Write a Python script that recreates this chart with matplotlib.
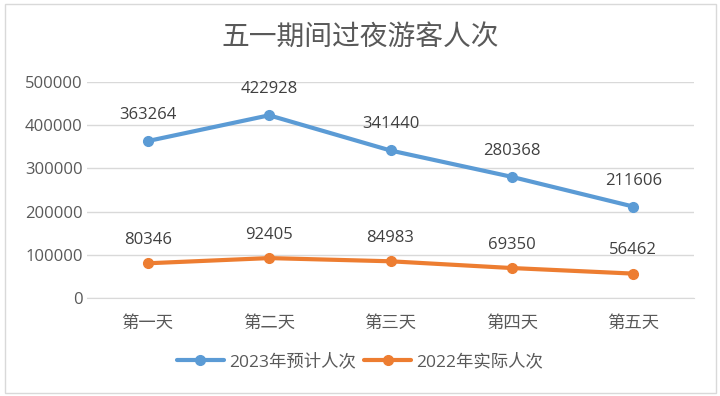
import matplotlib
matplotlib.use("Agg")
import matplotlib.pyplot as plt
from matplotlib.patches import Rectangle

plt.rcParams['font.family'] = ['Open Sans', 'Noto Sans CJK SC', 'DejaVu Sans']

categories = ["第一天", "第二天", "第三天", "第四天", "第五天"]
series_2023 = [363264, 422928, 341440, 280368, 211606]
series_2022 = [80346, 92405, 84983, 69350, 56462]
labels = ["2023年预计人次", "2022年实际人次"]
yticks = [0, 100000, 200000, 300000, 400000, 500000]
title = "五一期间过夜游客人次"

W, H = 720, 396
fig = plt.figure(figsize=(W / 100, H / 100), dpi=100)
fig.patches.append(Rectangle((5 / W, 3 / H), 711 / W, 389 / H, transform=fig.transFigure,
                             fill=False, edgecolor="#d9d9d9", linewidth=1))

left, right, top, bottom = 87, 694, 82, 298
ax = fig.add_axes([left / W, 1 - bottom / H, (right - left) / W, (bottom - top) / H])
x = list(range(len(categories)))
ax.plot(x, series_2023, color="#5B9BD5", lw=3, marker="o", ms=7, label=labels[0], solid_capstyle="round", zorder=3)
ax.plot(x, series_2022, color="#ED7D31", lw=3, marker="o", ms=7, label=labels[1], solid_capstyle="round", zorder=3)
for xi, v in zip(x, series_2023):
    ax.annotate(f"{v}", (xi, v), xytext=(0, 13), textcoords="offset points", ha="center", va="bottom",
                fontsize=12, color="#404040")
for xi, v in zip(x, series_2022):
    ax.annotate(f"{v}", (xi, v), xytext=(0, 11), textcoords="offset points", ha="center", va="bottom",
                fontsize=12, color="#404040")

ax.set_xlim(-0.5, len(categories) - 0.5)
ax.set_ylim(0, 500000)
ax.set_yticks(yticks)
ax.set_yticklabels([str(t) for t in yticks])
ax.set_xticks(x)
ax.set_xticklabels(categories, fontsize=12.5)
ax.grid(axis="y", color="#d9d9d9", lw=1)
ax.set_axisbelow(True)
for s in ["top", "right", "left"]:
    ax.spines[s].set_visible(False)
ax.spines["bottom"].set_color("#d9d9d9")
ax.tick_params(axis="both", length=0, labelcolor="#595959")
ax.tick_params(axis="y", pad=3, labelsize=12)
ax.tick_params(axis="x", pad=13)

fig.text(360 / W, 1 - 38 / H, title, ha="center", va="center", fontsize=20, color="#595959")
fig.legend(loc="center", bbox_to_anchor=(360 / W, 1 - 362 / H), ncol=2, frameon=False, fontsize=12.5,
           labelcolor="#595959", handlelength=2.7, handletextpad=0.3, columnspacing=0.5)

fig.savefig("out.png", dpi=100)
